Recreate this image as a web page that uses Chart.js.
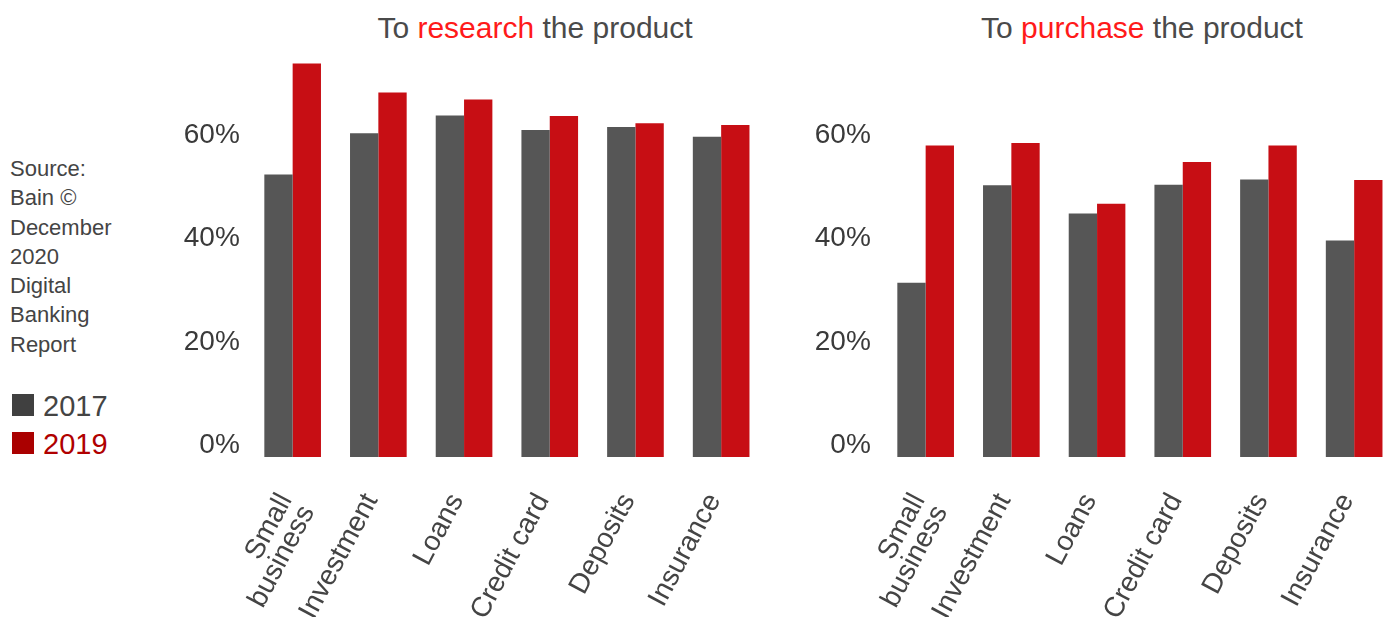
<!DOCTYPE html>
<html>
<head>
<meta charset="utf-8">
<script src="https://cdn.jsdelivr.net/npm/chart.js@4"></script>
<style>
  html, body { margin:0; padding:0; background:#fff; width:1390px; height:617px; overflow:hidden; position:relative; font-family:"Liberation Sans", Arial, sans-serif; }
  .title { position:absolute; top:13px; font-size:30px; line-height:30px; color:#4a4a4a; white-space:nowrap; transform:translateX(-50%); }
  .title .hl { color:#ff1a1a; }
  #source { position:absolute; left:10px; top:154px; font-size:22px; line-height:29.3px; color:#444; }
  .leg { position:absolute; left:12px; font-size:29px; line-height:29px; white-space:nowrap; }
  .leg .sw { display:inline-block; width:22px; height:22px; margin-right:9px; vertical-align:baseline; }
  .wrap { position:absolute; top:0; height:617px; }
</style>
</head>
<body>
<div class="title" style="left:535px">To <span class="hl">research</span> the product</div>
<div class="title" style="left:1142px">To <span class="hl">purchase</span> the product</div>
<div id="source">Source:<br>Bain ©<br>December<br>2020<br>Digital<br>Banking<br>Report</div>
<div id="legend"></div>
<div class="wrap" style="left:150px;width:630px"><canvas id="c1"></canvas></div>
<div class="wrap" style="left:800px;width:600px"><canvas id="c2"></canvas></div>
<script>
// ---- data ----
const categories = [['Small', 'business'], 'Investment', 'Loans', 'Credit card', 'Deposits', 'Insurance'];
const seriesLabels = ['2017', '2019'];
const research2017 = [54.8, 62.8, 66.2, 63.4, 64.0, 62.1];
const research2019 = [76.3, 70.7, 69.3, 66.1, 64.7, 64.4];
const purchase2017 = [33.8, 52.7, 47.2, 52.8, 53.8, 42.0];
const purchase2019 = [60.4, 60.9, 49.1, 57.2, 60.4, 53.7];
const yTickValues = [0, 20, 40, 60];

// ---- styles ----
const barColors = ['#565656', '#c70e14'];
const legendSwatch = ['#404040', '#aa0000'];
const legendText = ['#444444', '#b00000'];

// legend (HTML)
const legend = document.getElementById('legend');
const legTops = [392, 430];
seriesLabels.forEach((lab, i) => {
  const d = document.createElement('div');
  d.className = 'leg';
  d.style.top = legTops[i] + 'px';
  d.style.color = legendText[i];
  d.innerHTML = '<span class="sw" style="background:' + legendSwatch[i] + '"></span>' + lab;
  legend.appendChild(d);
});

function makeChart(id, d2017, d2019, yWidth, padRight, tickPad) {
  const canvas = document.getElementById(id);
  canvas.parentNode.style.height = '617px';
  return new Chart(canvas, {
    type: 'bar',
    data: {
      labels: categories,
      datasets: [
        { label: seriesLabels[0], data: d2017, backgroundColor: barColors[0], borderWidth: 0 },
        { label: seriesLabels[1], data: d2019, backgroundColor: barColors[1], borderWidth: 0 }
      ]
    },
    options: {
      responsive: true,
      maintainAspectRatio: false,
      animation: false,
      devicePixelRatio: 1,
      layout: { padding: { top: 63, right: padRight, left: 0, bottom: 0 } },
      plugins: { legend: { display: false }, tooltip: { enabled: false }, title: { display: false } },
      datasets: { bar: { barPercentage: 1.0, categoryPercentage: 0.661 } },
      scales: {
        x: {
          grid: { display: false, drawTicks: false },
          border: { display: false },
          ticks: {
            color: '#444',
            font: { family: 'Liberation Sans', size: 28, lineHeight: 0.9 },
            minRotation: 62, maxRotation: 62,
            autoSkip: false,
            padding: 33,
            labelOffset: -7
          },
          afterFit: (s) => { s.height = 160; s.paddingLeft = 0; s.paddingRight = 0; }
        },
        y: {
          min: 0, max: 76.4,
          grid: { display: false, drawTicks: false },
          border: { display: false },
          afterBuildTicks: (s) => { s.ticks = yTickValues.map(v => ({ value: v })); },
          ticks: {
            color: '#3a3a3a',
            font: { family: 'Liberation Sans', size: 28 },
            padding: tickPad,
            labelOffset: -12,
            callback: (v) => v + '%'
          },
          afterFit: (s) => { s.width = yWidth; }
        }
      }
    }
  });
}

makeChart('c1', research2017, research2019, 99.8, 16, 10);
makeChart('c2', purchase2017, purchase2019, 82.8, 3, 12);
</script>
</body>
</html>
